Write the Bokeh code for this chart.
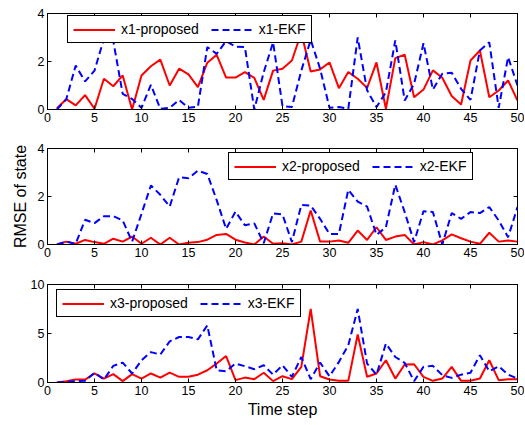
from bokeh.plotting import figure
from bokeh.models import LinearAxis, SingleIntervalTicker, Range1d, CustomJSTickFormatter
from bokeh.layouts import column
from bokeh.embed import file_html
from bokeh.resources import INLINE

steps = list(range(1, 51))

x1_proposed = [0.05, 0.43, 0.17, 0.6, 0.03, 1.28, 0.97, 1.42, 0.0, 1.42,
               1.8, 2.08, 1.0, 1.7, 1.46, 0.93, 1.95, 2.28, 1.33, 1.33,
               1.56, 1.32, 0.4, 1.62, 1.7, 2.04, 3.2, 1.58, 1.67, 1.96,
               0.89, 1.56, 1.28, 0.9, 1.96, 0.03, 2.14, 2.28, 0.51, 0.83,
               1.63, 1.32, 0.56, 0.21, 2.04, 2.46, 0.51, 0.79, 1.21, 0.375]
x1_ekf = [0.0, 0.43, 1.83, 1.17, 1.62, 2.95, 2.85, 0.65, 0.44, 0.07,
          1.03, 0.03, 0.07, 0.4, 0.07, 0.12, 2.6, 2.32, 2.85, 2.62,
          2.6, 0.0, 1.55, 2.8, 0.14, 0.1, 1.62, 2.9, 1.7, 0.07,
          0.1, 0.03, 3.0, 0.8, 0.1, 0.72, 2.88, 0.375, 1.07, 2.76,
          0.83, 1.49, 1.53, 0.86, 0.4, 2.46, 2.8, 0.07, 2.18, 1.0]
x2_proposed = [0.0, 0.12, 0.03, 0.19, 0.1, 0.03, 0.24, 0.12, 0.33, 0.03,
               0.28, 0.0, 0.28, 0.0, 0.07, 0.1, 0.2, 0.4, 0.44, 0.2,
               0.08, 0.0, 0.33, 0.03, 0.05, 0.0, 0.12, 1.42, 0.12, 0.12,
               0.17, 0.07, 0.58, 0.19, 0.72, 0.19, 0.33, 0.4, 0.0, 0.1,
               0.0, 0.17, 0.42, 0.26, 0.12, 0.03, 0.49, 0.12, 0.17, 0.12]
x2_ekf = [0.0, 0.12, 0.03, 1.03, 0.89, 1.18, 1.18, 1.0, 0.12, 1.28,
          2.46, 2.07, 1.58, 2.8, 2.76, 3.08, 2.94, 1.85, 0.65, 1.37,
          0.8, 0.88, 0.05, 1.3, 1.25, 0.1, 1.65, 1.62, 1.07, 0.44,
          0.44, 2.28, 1.79, 1.58, 0.4, 0.72, 2.49, 1.35, 0.1, 1.39,
          1.35, 0.0, 1.31, 1.07, 1.35, 1.31, 1.56, 1.0, 0.3, 1.56]
x3_proposed = [0.0, 0.14, 0.3, 0.3, 0.92, 0.4, 0.85, 0.14, 0.85, 0.4,
               0.92, 0.5, 1.0, 0.58, 0.58, 0.8, 1.25, 1.93, 2.7, 0.24,
               0.5, 0.34, 1.0, 0.14, 0.64, 0.34, 1.6, 7.5, 0.64, 0.3,
               0.17, 0.17, 4.9, 0.58, 0.92, 2.27, 0.4, 1.83, 1.86, 0.58,
               0.17, 0.4, 1.6, 0.17, 0.17, 0.4, 2.27, 0.24, 0.34, 0.34]
x3_ekf = [0.0, 0.07, 0.14, 0.17, 1.0, 0.3, 1.7, 2.03, 0.92, 2.27,
          3.1, 2.85, 4.2, 4.64, 4.64, 4.4, 5.83, 1.25, 1.15, 1.93,
          1.66, 1.36, 1.76, 0.8, 1.76, 0.58, 2.6, 0.34, 2.03, 0.64,
          2.1, 3.8, 7.5, 1.93, 0.8, 3.97, 2.6, 2.0, 0.14, 1.6,
          1.7, 0.75, 0.47, 0.8, 1.0, 2.78, 1.15, 1.66, 0.8, 0.4]

FONT = "Liberation Sans"


def style_axis(ax, interval, show_labels=True):
    ax.ticker = SingleIntervalTicker(interval=interval, num_minor_ticks=0)
    ax.major_tick_in = 4
    ax.major_tick_out = 0
    ax.minor_tick_in = 0
    ax.minor_tick_out = 0
    ax.axis_line_color = "black"
    ax.major_tick_line_color = "black"
    ax.major_label_text_font = FONT
    ax.major_label_text_color = "black"
    ax.major_label_text_font_size = "12.5px"
    if show_labels:
        ax.major_label_standoff = 3
    else:
        ax.formatter = CustomJSTickFormatter(code="return '';")
        ax.major_label_standoff = 0


def make_fig(height, top, bottom, ymax, yint, prop, ekf, lab_p, lab_e, loc):
    p = figure(width=524, height=height, output_backend="svg", toolbar_location=None,
               x_range=Range1d(0, 50), y_range=Range1d(0, ymax),
               min_border_left=47, min_border_right=7,
               min_border_top=top, min_border_bottom=bottom)
    p.xgrid.visible = False
    p.ygrid.visible = False
    p.outline_line_color = "black"
    p.outline_line_alpha = 1
    p.background_fill_color = "white"
    p.border_fill_color = "white"
    style_axis(p.below[0], 5)
    style_axis(p.left[0], yint)
    top_ax = LinearAxis()
    style_axis(top_ax, 5, False)
    p.add_layout(top_ax, "above")
    right_ax = LinearAxis()
    style_axis(right_ax, yint, False)
    p.add_layout(right_ax, "right")
    p.line(steps, prop, line_color="#ff0000", line_width=2, legend_label=lab_p)
    p.line(steps, ekf, line_color="#0000ff", line_width=2, line_dash="7 4",
           legend_label=lab_e)
    lg = p.legend[0]
    lg.orientation = "horizontal"
    lg.location = loc
    lg.border_line_color = "black"
    lg.border_line_width = 1
    lg.border_line_alpha = 1
    lg.background_fill_color = "white"
    lg.background_fill_alpha = 1
    lg.label_text_font = FONT
    lg.label_text_font_size = "14px"
    lg.label_text_color = "black"
    lg.glyph_width = 42
    lg.glyph_height = 15
    lg.label_height = 15
    lg.label_standoff = 6
    lg.spacing = 12
    lg.padding = 5
    lg.margin = 0
    return p


p1 = make_fig(128, 13, 19, 4, 2, x1_proposed, x1_ekf, "x1-proposed", "x1-EKF", (20, 66))
p2 = make_fig(135, 20, 19, 4, 2, x2_proposed, x2_ekf, "x2-proposed", "x2-EKF", (181, 64))
ya = p2.left[0]
ya.axis_label = "RMSE of state"
ya.axis_label_text_font = FONT
ya.axis_label_text_font_size = "16px"
ya.axis_label_text_color = "black"
ya.axis_label_text_font_style = "normal"
ya.axis_label_standoff = 6
p3 = make_fig(161, 21, 42, 10, 5, x3_proposed, x3_ekf, "x3-proposed", "x3-EKF", (9, 65))
xa = p3.below[0]
xa.axis_label = "Time step"
xa.axis_label_text_font = FONT
xa.axis_label_text_font_size = "16px"
xa.axis_label_text_color = "black"
xa.axis_label_text_font_style = "normal"
xa.axis_label_standoff = 3

layout = column(p1, p2, p3, spacing=0)

open("out.html", "w").write(file_html(layout, INLINE))
